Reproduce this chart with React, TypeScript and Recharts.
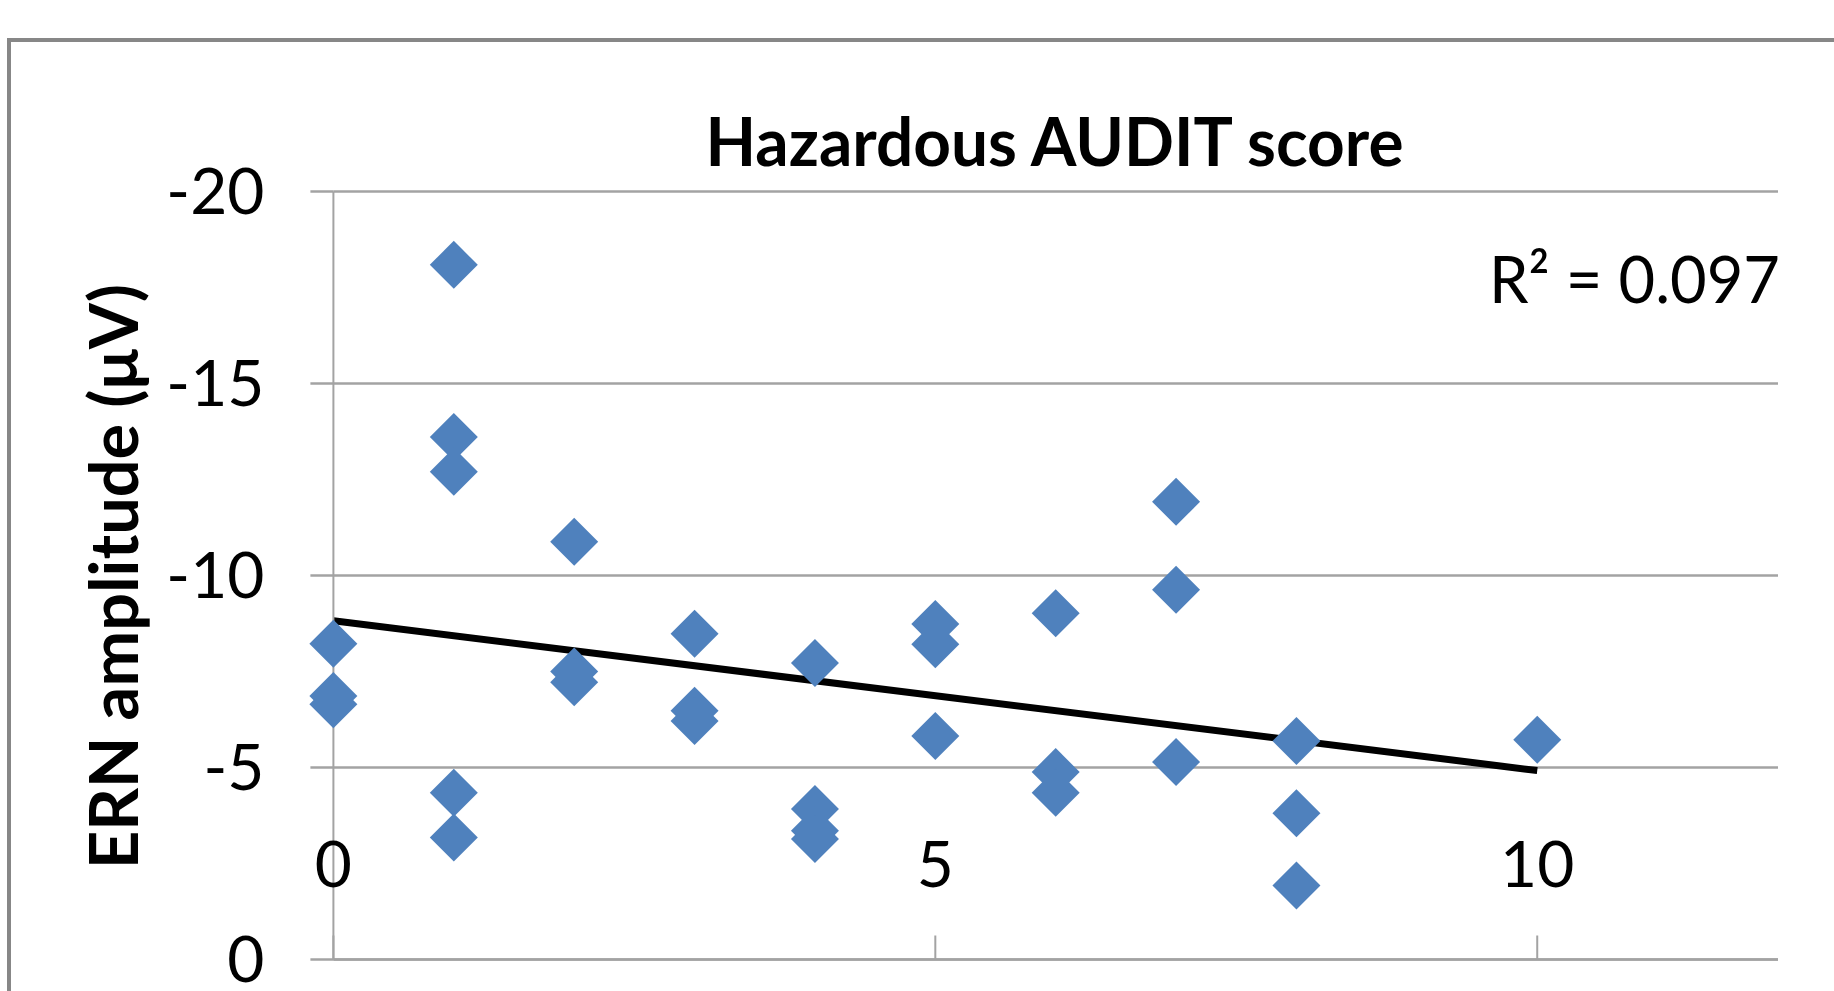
import React from 'react';
import { ScatterChart, Scatter, XAxis, YAxis, CartesianGrid, ReferenceLine } from 'recharts';

// AUDIT score (x) and ERN amplitude in µV (y)
const auditScores = [0, 0, 0, 1, 1, 1, 1, 1, 2, 2, 2, 3, 3, 3, 4, 4, 4, 4, 5, 5, 5, 6, 6, 6, 7, 7, 7, 8, 8, 8, 10];
const ernAmplitudes = [
  -8.22, -6.86, -6.65,
  -18.09, -13.61, -12.7, -4.34, -3.18,
  -10.88, -7.5, -7.22,
  -8.48, -6.48, -6.21,
  -7.72, -3.92, -3.35, -3.14,
  -8.74, -8.21, -5.82,
  -9.02, -4.88, -4.34,
  -11.92, -9.63, -5.14,
  -5.69, -3.81, -1.93,
  -5.72,
];

// linear trendline end points (as drawn in the picture)
const trendX = [0, 10];
const trendY = [-8.82, -4.92];

const xTicks = [0, 5, 10];
const yTicks = [-20, -15, -10, -5, 0];

const chartTitle = 'Hazardous AUDIT score';
const yAxisTitle = 'ERN amplitude (μV)';
const rSquaredLabel = 'R² = 0.097';

const points = auditScores.map((x, i) => ({ x, y: ernAmplitudes[i] }));
const trend = trendX.map((x, i) => ({ x, y: trendY[i] }));

const FONT = 'Lato, "Open Sans", sans-serif';
const GRID = '#A3A3A3';
const BLUE = '#4F81BD';

const Diamond = (props: any) => {
  const { cx, cy } = props;
  if (cx == null || cy == null) return <g />;
  const r = 24;
  return (
    <polygon
      points={`${cx},${cy - r} ${cx + r},${cy} ${cx},${cy + r} ${cx - r},${cy}`}
      fill={BLUE}
    />
  );
};

const XTick = (props: any) => {
  const { x, y, payload } = props;
  return (
    <g>
      <line x1={x} x2={x} y1={y} y2={y - 24} stroke={GRID} strokeWidth={2} />
      <text x={x} y={y - 73} textAnchor="middle" fill="#000" fontSize={64} fontFamily={FONT}>
        {payload.value}
      </text>
    </g>
  );
};

const TrendShape = (props: any) => {
  const { x1, y1, x2, y2 } = props;
  if ([x1, y1, x2, y2].some((v) => v == null || Number.isNaN(v))) return <g />;
  return <line x1={x1} y1={y1} x2={x2} y2={y2} stroke="#000" strokeWidth={7} strokeLinecap="butt" />;
};

export default function App() {
  return (
    <div style={{ position: 'absolute', left: 0, top: 0, width: 1834, height: 991, overflow: 'hidden', background: '#fff' }}>
      <div
        style={{
          position: 'absolute',
          left: 7,
          top: 38,
          width: 2000,
          height: 1200,
          borderLeft: '4px solid #878787',
          borderTop: '4px solid #878787',
        }}
      />
      <div style={{ position: 'absolute', left: 0, top: 0 }}>
        <ScatterChart width={1834} height={991} margin={{ top: 191.5, right: 56, bottom: 0, left: 0 }}>
          <CartesianGrid horizontal vertical={false} stroke={GRID} strokeWidth={2.5} strokeDasharray="" />
          <XAxis
            dataKey="x"
            type="number"
            domain={[0, 12]}
            ticks={xTicks}
            interval={0}
            height={31.5}
            tickSize={0}
            tickMargin={0}
            tickLine={false}
            axisLine={{ stroke: GRID, strokeWidth: 2.5 }}
            tick={<XTick />}
          />
          <YAxis
            dataKey="y"
            type="number"
            domain={[-20, 0]}
            reversed
            ticks={yTicks}
            interval={0}
            width={333.4}
            tickSize={23}
            tickMargin={46}
            tickLine={{ stroke: GRID, strokeWidth: 2.5 }}
            axisLine={{ stroke: GRID, strokeWidth: 2 }}
            tick={{ fill: '#000', fontSize: 64, fontFamily: FONT }}
          />
          <Scatter data={points} shape={<Diamond />} isAnimationActive={false} />
          <ReferenceLine
            segment={trend}
            stroke="#000"
            strokeWidth={7}
            ifOverflow="visible"
            shape={<TrendShape />}
          />
        </ScatterChart>
      </div>
      <svg
        width={1834}
        height={991}
        style={{ position: 'absolute', left: 0, top: 0, pointerEvents: 'none' }}
      >
        <text
          x={1054.5}
          y={166}
          textAnchor="middle"
          fontFamily={FONT}
          fontWeight={700}
          fontSize={66}
          fill="#000"
          textLength={698}
          lengthAdjust="spacingAndGlyphs"
        >
          {chartTitle}
        </text>
        <text
          x={1780}
          y={303}
          textAnchor="end"
          fontFamily={FONT}
          fontSize={66}
          fill="#000"
          textLength={291}
          lengthAdjust="spacingAndGlyphs"
        >
          {rSquaredLabel}
        </text>
        <text
          x={138}
          y={576.5}
          textAnchor="middle"
          transform="rotate(-90, 138, 576.5)"
          fontFamily={FONT}
          fontWeight={700}
          fontSize={66}
          fill="#000"
          textLength={585}
          lengthAdjust="spacingAndGlyphs"
        >
          {yAxisTitle}
        </text>
      </svg>
    </div>
  );
}
